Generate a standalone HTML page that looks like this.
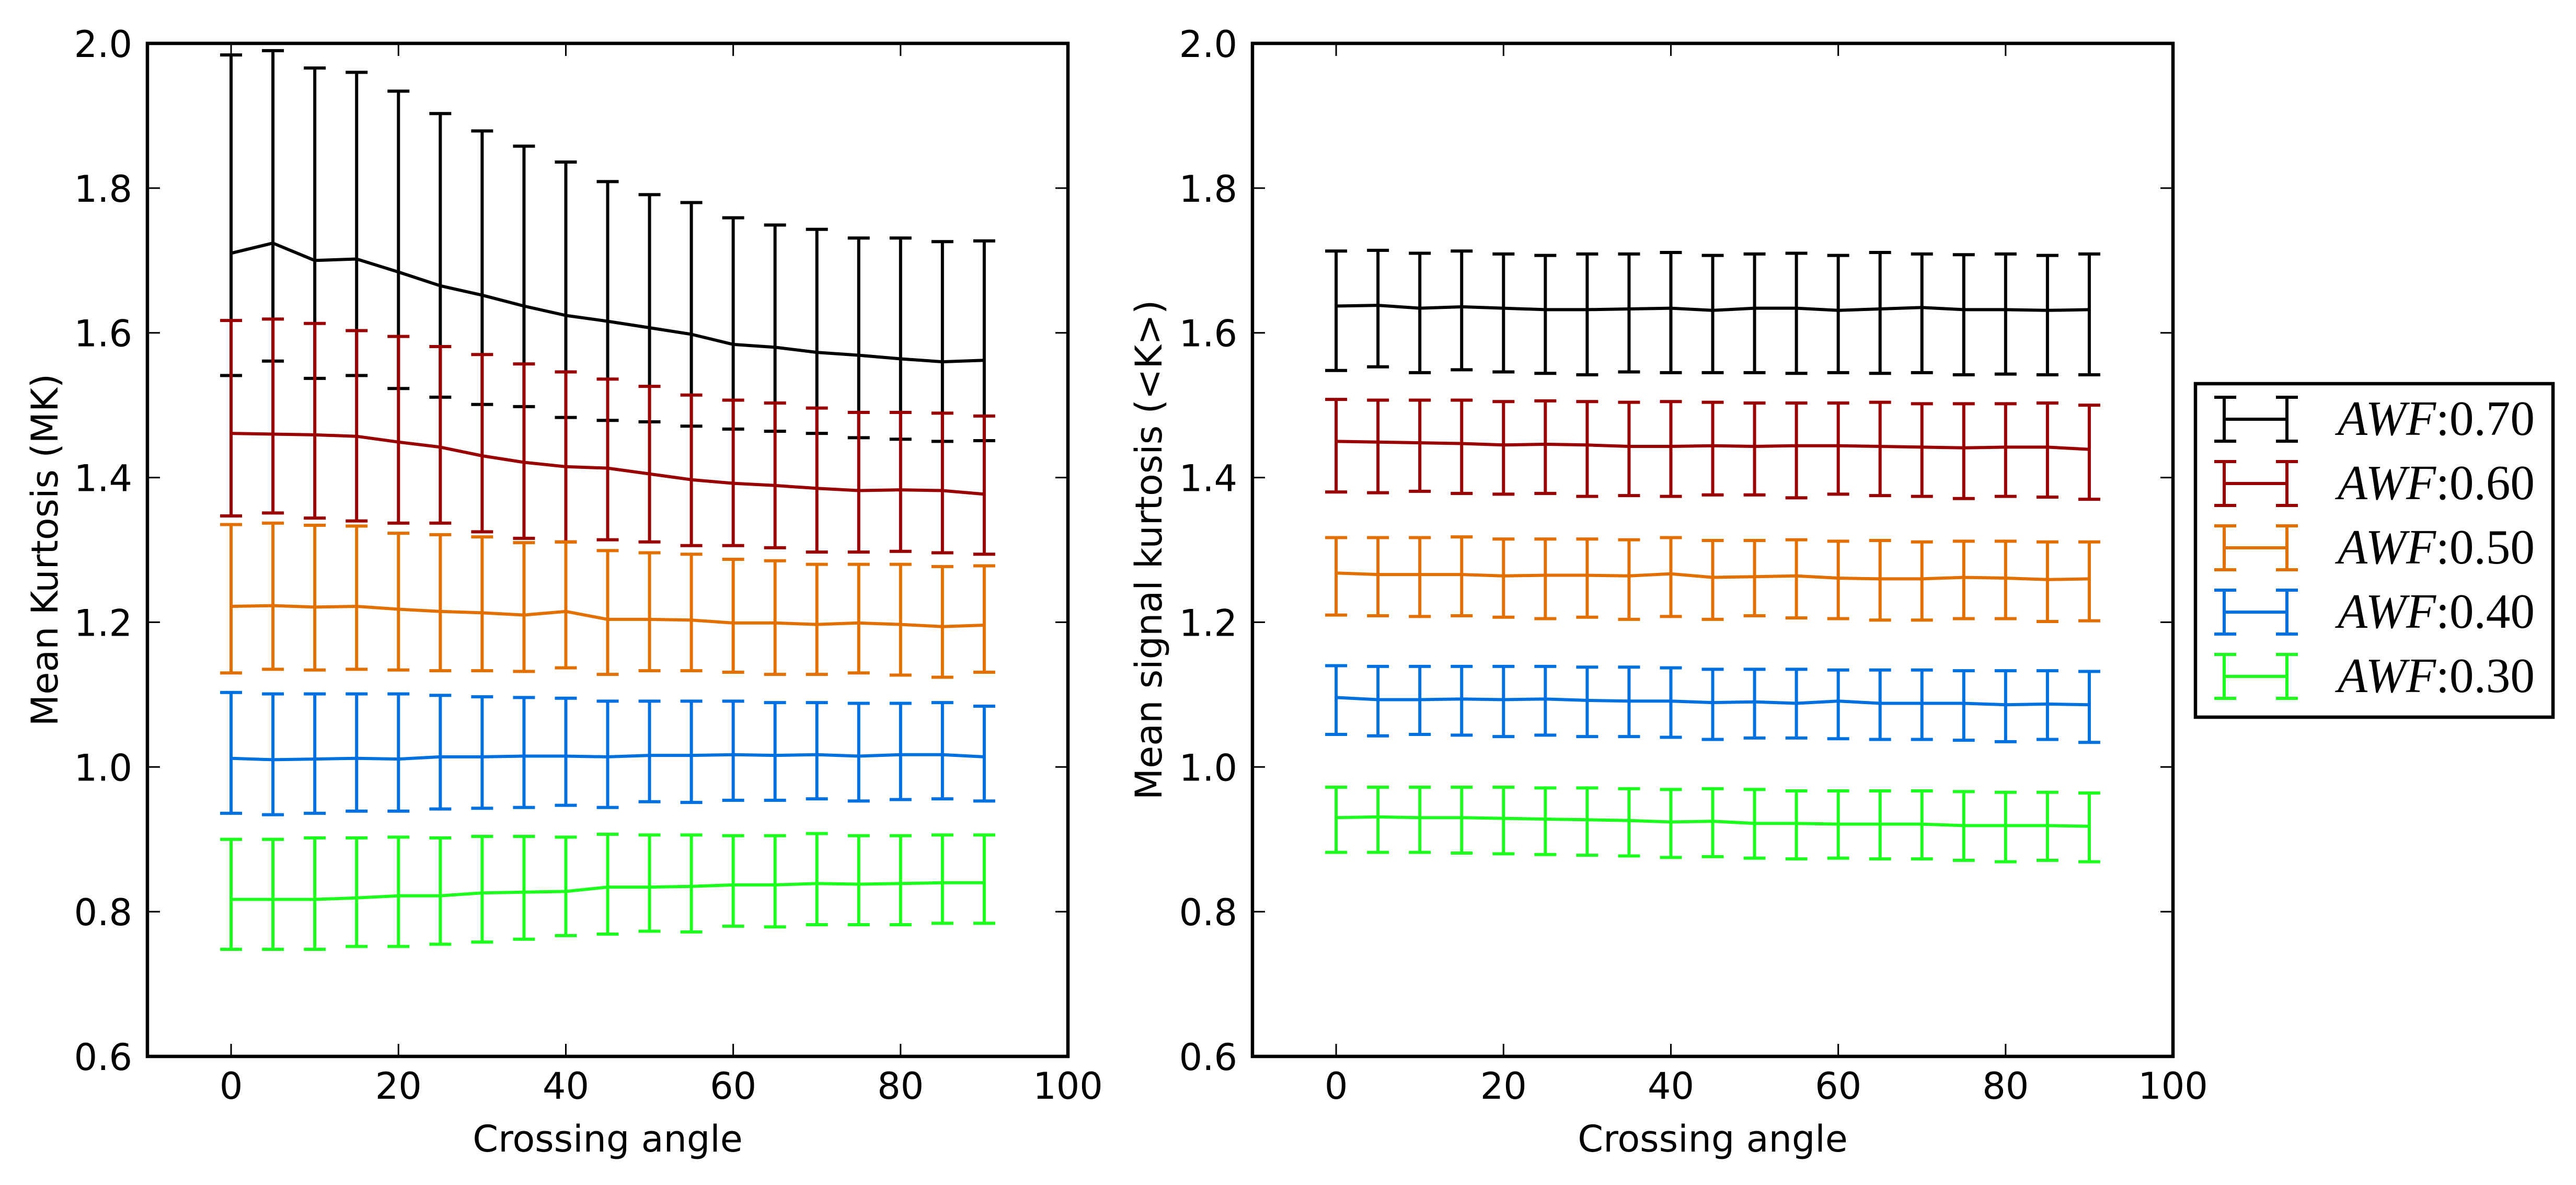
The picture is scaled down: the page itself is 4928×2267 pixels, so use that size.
<!DOCTYPE html>
<html><head><meta charset="utf-8"><style>
html,body{margin:0;padding:0;background:#fff;}
svg{display:block;}
text{font-family:"DejaVu Sans","Liberation Sans",sans-serif;}
text.serif{font-family:"Liberation Serif","DejaVu Serif",serif;}
</style></head><body>
<svg id="chart" width="4928" height="2267" viewBox="0 0 4928 2267" xmlns="http://www.w3.org/2000/svg">
<rect width="4928" height="2267" fill="#fff"/>
</svg>
<script>
const angles = [0,5,10,15,20,25,30,35,40,45,50,55,60,65,70,75,80,85,90];
const seriesLabels = ["AWF:0.70","AWF:0.60","AWF:0.50","AWF:0.40","AWF:0.30"];
const seriesColors = ["#000000","#990000","#e27000","#0070e0","#1cff1c"];
const xTicks = [0,20,40,60,80,100];
const yTicks = [0.6,0.8,1.0,1.2,1.4,1.6,1.8,2.0];
const yTickLabels = ["0.6","0.8","1.0","1.2","1.4","1.6","1.8","2.0"];

// Left plot: Mean Kurtosis (MK)
const mkMean70 = [1.710,1.724,1.700,1.702,1.684,1.665,1.652,1.637,1.624,1.616,1.607,1.598,1.584,1.580,1.573,1.569,1.564,1.560,1.562];
const mkUp70 = [1.984,1.990,1.966,1.960,1.934,1.903,1.879,1.858,1.836,1.809,1.791,1.780,1.759,1.749,1.743,1.731,1.731,1.726,1.727];
const mkLo70 = [1.541,1.561,1.537,1.541,1.523,1.511,1.501,1.498,1.483,1.479,1.477,1.471,1.467,1.464,1.461,1.455,1.453,1.450,1.451];
const mkMean60 = [1.461,1.460,1.459,1.457,1.449,1.442,1.430,1.421,1.415,1.413,1.405,1.397,1.392,1.389,1.385,1.382,1.383,1.382,1.377];
const mkUp60 = [1.617,1.619,1.613,1.603,1.595,1.581,1.570,1.557,1.546,1.536,1.526,1.514,1.507,1.503,1.496,1.490,1.490,1.489,1.485];
const mkLo60 = [1.347,1.351,1.344,1.340,1.337,1.337,1.325,1.316,1.311,1.314,1.311,1.306,1.306,1.303,1.297,1.297,1.298,1.296,1.294];
const mkMean50 = [1.222,1.223,1.221,1.222,1.218,1.215,1.213,1.210,1.215,1.204,1.204,1.203,1.199,1.199,1.197,1.199,1.197,1.194,1.196];
const mkUp50 = [1.335,1.337,1.334,1.333,1.323,1.321,1.318,1.310,1.311,1.299,1.296,1.294,1.287,1.285,1.280,1.280,1.280,1.277,1.278];
const mkLo50 = [1.130,1.135,1.134,1.135,1.134,1.133,1.133,1.132,1.137,1.128,1.133,1.133,1.131,1.128,1.128,1.130,1.127,1.124,1.131];
const mkMean40 = [1.012,1.010,1.011,1.012,1.011,1.014,1.014,1.015,1.015,1.014,1.016,1.016,1.017,1.016,1.017,1.015,1.017,1.017,1.014];
const mkUp40 = [1.103,1.101,1.101,1.101,1.101,1.099,1.097,1.096,1.095,1.091,1.091,1.091,1.091,1.089,1.089,1.088,1.088,1.089,1.084];
const mkLo40 = [0.936,0.934,0.936,0.939,0.939,0.942,0.943,0.944,0.947,0.944,0.952,0.951,0.954,0.954,0.956,0.953,0.955,0.956,0.953];
const mkMean30 = [0.817,0.817,0.817,0.819,0.822,0.822,0.826,0.827,0.828,0.834,0.834,0.835,0.837,0.837,0.839,0.838,0.839,0.840,0.840];
const mkUp30 = [0.900,0.900,0.902,0.902,0.903,0.902,0.904,0.904,0.903,0.907,0.906,0.906,0.905,0.905,0.908,0.905,0.905,0.906,0.906];
const mkLo30 = [0.748,0.748,0.748,0.752,0.752,0.755,0.758,0.762,0.767,0.769,0.773,0.772,0.780,0.779,0.782,0.782,0.782,0.784,0.784];

// Right plot: Mean signal kurtosis (<K>)
const skMean70 = [1.637,1.638,1.634,1.636,1.634,1.632,1.632,1.633,1.634,1.631,1.634,1.634,1.631,1.633,1.635,1.632,1.632,1.631,1.632];
const skUp70 = [1.713,1.714,1.710,1.713,1.709,1.707,1.709,1.709,1.711,1.707,1.709,1.710,1.707,1.711,1.709,1.708,1.709,1.707,1.709];
const skLo70 = [1.548,1.553,1.545,1.549,1.546,1.544,1.542,1.546,1.545,1.545,1.545,1.544,1.545,1.544,1.545,1.542,1.543,1.542,1.542];
const skMean60 = [1.450,1.449,1.448,1.447,1.445,1.446,1.445,1.443,1.443,1.444,1.443,1.444,1.444,1.443,1.442,1.441,1.442,1.442,1.439];
const skUp60 = [1.508,1.507,1.507,1.507,1.505,1.506,1.505,1.504,1.505,1.504,1.503,1.503,1.503,1.504,1.502,1.502,1.502,1.503,1.500];
const skLo60 = [1.380,1.379,1.381,1.378,1.377,1.378,1.374,1.375,1.374,1.376,1.376,1.372,1.377,1.375,1.374,1.371,1.374,1.373,1.370];
const skMean50 = [1.268,1.266,1.266,1.266,1.264,1.265,1.265,1.264,1.267,1.262,1.263,1.264,1.261,1.260,1.260,1.262,1.261,1.259,1.260];
const skUp50 = [1.317,1.317,1.317,1.318,1.315,1.315,1.315,1.314,1.317,1.313,1.313,1.314,1.312,1.313,1.311,1.312,1.312,1.311,1.311];
const skLo50 = [1.210,1.209,1.208,1.209,1.207,1.205,1.207,1.204,1.208,1.204,1.209,1.206,1.205,1.203,1.203,1.205,1.205,1.201,1.202];
const skMean40 = [1.096,1.093,1.093,1.094,1.093,1.094,1.092,1.091,1.091,1.089,1.090,1.088,1.091,1.088,1.088,1.088,1.086,1.087,1.086];
const skUp40 = [1.140,1.139,1.139,1.139,1.139,1.139,1.138,1.138,1.137,1.135,1.135,1.135,1.134,1.134,1.134,1.133,1.133,1.133,1.132];
const skLo40 = [1.045,1.043,1.045,1.044,1.042,1.044,1.042,1.042,1.041,1.038,1.040,1.040,1.039,1.038,1.038,1.037,1.035,1.038,1.034];
const skMean30 = [0.930,0.931,0.930,0.930,0.929,0.928,0.927,0.926,0.924,0.925,0.922,0.922,0.921,0.921,0.921,0.919,0.919,0.919,0.918];
const skUp30 = [0.972,0.972,0.972,0.972,0.972,0.971,0.971,0.970,0.969,0.970,0.969,0.967,0.967,0.967,0.967,0.966,0.965,0.965,0.964];
const skLo30 = [0.882,0.882,0.882,0.881,0.880,0.879,0.878,0.877,0.875,0.876,0.874,0.873,0.874,0.873,0.873,0.871,0.869,0.871,0.869];

const NS = "http://www.w3.org/2000/svg";
const svg = document.getElementById('chart');
function mk(tag, attrs, parent){
  const e = document.createElementNS(NS, tag);
  for (const k in attrs) e.setAttribute(k, attrs[k]);
  (parent||svg).appendChild(e);
  return e;
}
const TOP=83, BOT=2021, YMIN=0.6, YMAX=2.0, XMIN=-10, XMAX=100;
function yScale(v){ return BOT - (v-YMIN)/(YMAX-YMIN)*(BOT-TOP); }
function makeX(L,R){ return a => L + (a-XMIN)/(XMAX-XMIN)*(R-L); }

function drawPanel(name, L, R, means, ups, los, ylabel, ylabelX){
  const xs = makeX(L,R);
  const g = mk('g', {});
  
  
  for (let s=0; s<means.length; s++){
    const sg = mk('g', {}, g);
    
    
    const col = seriesColors[s];
    let d = '';
    angles.forEach((a,i)=>{ d += (i?'L':'M') + xs(a).toFixed(1) + ' ' + yScale(means[s][i]).toFixed(1); });
    const line = mk('path', {d:d, fill:'none', stroke:col, 'stroke-width':6, 'stroke-linejoin':'round'}, sg);
    
    
    angles.forEach((a,i)=>{
      const x = xs(a), yu = yScale(ups[s][i]), yl = yScale(los[s][i]);
      const eb = mk('path', {d:`M${x} ${yu}L${x} ${yl}M${x-21} ${yu}L${x+21} ${yu}M${x-21} ${yl}L${x+21} ${yl}`, stroke:col, 'stroke-width':6, fill:'none'}, sg);
      
      
    });
  }
  const fr = mk('rect', {x:L, y:TOP, width:R-L, height:BOT-TOP, fill:'none', stroke:'#000', 'stroke-width':6.5}, g);
  
  
  xTicks.forEach(t=>{
    const x = xs(t);
    mk('path', {d:`M${x} ${BOT}L${x} ${BOT-24}M${x} ${TOP}L${x} ${TOP+24}`, stroke:'#000', 'stroke-width':3}, g);
    const tx = mk('text', {x:x, y:2102, 'font-size':70, 'text-anchor':'middle'}, g);
    
    
    tx.textContent = String(t);
  });
  yTicks.forEach((t,i)=>{
    const y = yScale(t);
    mk('path', {d:`M${L} ${y}L${L+24} ${y}M${R} ${y}L${R-24} ${y}`, stroke:'#000', 'stroke-width':3}, g);
    const ty = mk('text', {x:L-29, y:y+26, 'font-size':70, 'text-anchor':'end'}, g);
    
    
    ty.textContent = yTickLabels[i];
  });
  const xl = mk('text', {x:(L+R)/2, y:2203, 'font-size':70, 'text-anchor':'middle'}, g);
  
  
  xl.textContent = 'Crossing angle';
  const yc = (TOP+BOT)/2;
  const yl = mk('text', {x:ylabelX, y:yc, 'font-size':70, 'text-anchor':'middle', transform:`rotate(-90 ${ylabelX} ${yc})`}, g);
  
  
  yl.textContent = ylabel;
}

drawPanel('left-panel', 282, 2043,
  [mkMean70,mkMean60,mkMean50,mkMean40,mkMean30],
  [mkUp70,mkUp60,mkUp50,mkUp40,mkUp30],
  [mkLo70,mkLo60,mkLo50,mkLo40,mkLo30],
  'Mean Kurtosis (MK)', 110);
drawPanel('right-panel', 2396, 4157,
  [skMean70,skMean60,skMean50,skMean40,skMean30],
  [skUp70,skUp60,skUp50,skUp40,skUp30],
  [skLo70,skLo60,skLo50,skLo40,skLo30],
  'Mean signal kurtosis (<K>)', 2222);

const lg = mk('g', {});


const lb = mk('rect', {x:4200, y:734, width:684, height:638, fill:'#fff', stroke:'#000', 'stroke-width':6.5}, lg);


seriesLabels.forEach((lab,i)=>{
  const cy = 802 + i*123;
  const col = seriesColors[i];
  const e = mk('g', {}, lg);
  
  
  mk('path', {d:`M4255 ${cy}L4375 ${cy}M4255 ${cy-42}L4255 ${cy+42}M4375 ${cy-42}L4375 ${cy+42}M4236 ${cy-42}L4278 ${cy-42}M4236 ${cy+42}L4278 ${cy+42}M4354 ${cy-42}L4396 ${cy-42}M4354 ${cy+42}L4396 ${cy+42}`, stroke:col, 'stroke-width':6, fill:'none'}, e);
  const t = mk('text', {x:4472, y:cy+30, 'font-size':94, 'class':'serif', textLength:377, lengthAdjust:'spacingAndGlyphs'}, e);
  
  
  const parts = lab.split(':');
  const it = mk('tspan', {'font-style':'italic'}, t);
  it.textContent = parts[0];
  const rest = mk('tspan', {}, t);
  rest.textContent = ':' + parts[1];
});
</script>
</body></html>
